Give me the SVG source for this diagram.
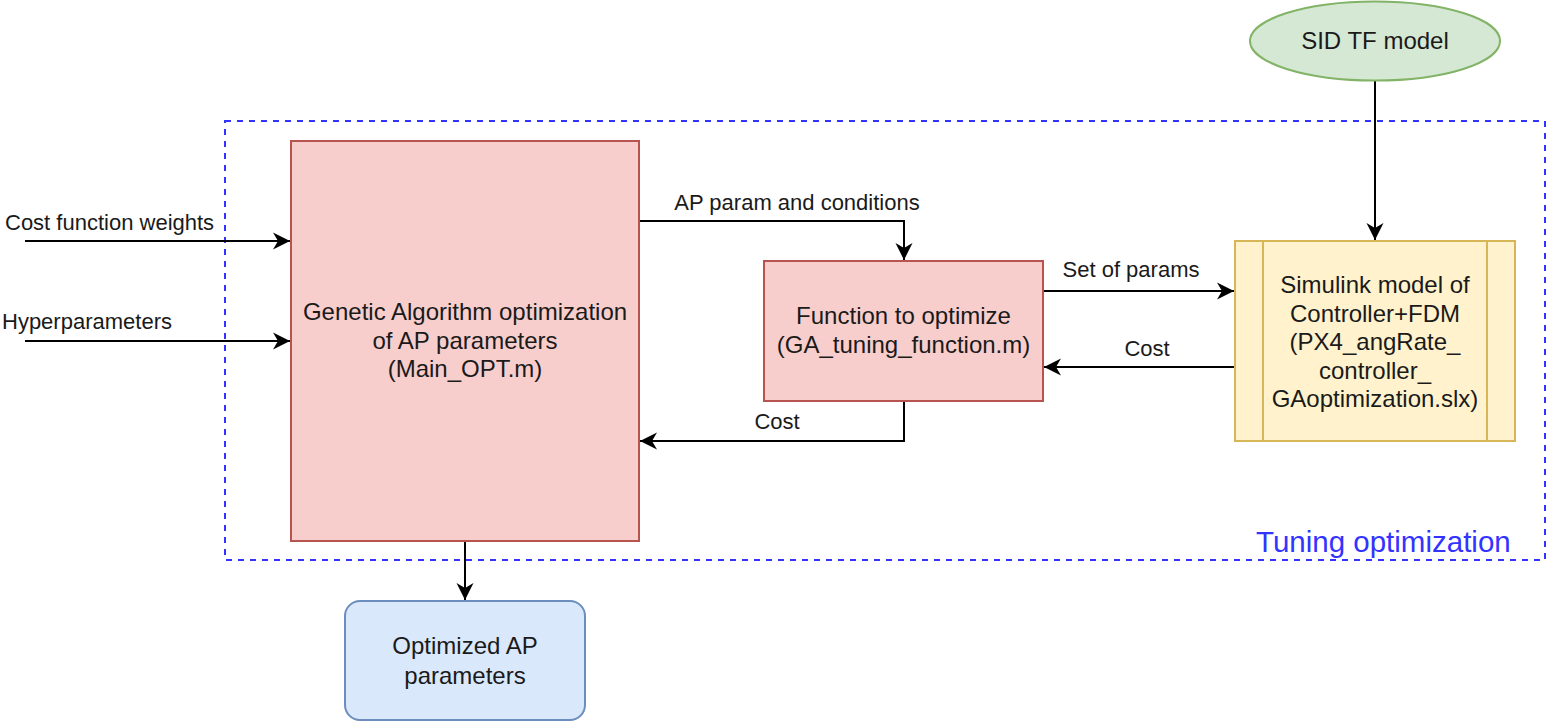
<svg xmlns="http://www.w3.org/2000/svg" width="1546" height="722" viewBox="0 0 1546 722">
  <defs>
    <style>
      .t { font-family: "Liberation Sans", Arial, Helvetica, sans-serif; fill: #1a1a1a; }
      .box { font-size: 24px; text-anchor: middle; }
      .lbl { font-size: 22px; }
      .edge { fill: none; stroke: #000; stroke-width: 2; }
      .red { fill: #f8cecc; stroke: #b85450; stroke-width: 2; }
    </style>
    <marker id="arr" markerUnits="userSpaceOnUse" viewBox="0 0 18 18" markerWidth="18" markerHeight="18" refX="17" refY="9" orient="auto">
      <path d="M17,9 L0,0.5 L5,9 L0,17.5 Z" fill="#000"/>
    </marker>
  </defs>
  <rect width="1546" height="722" fill="#fff"/>

  <g id="tuning-group">
    <rect x="225" y="121" width="1320" height="439" fill="none" stroke="#3333ff" stroke-width="2" stroke-dasharray="6 6"/>
    <text x="1256" y="552" style="font-family: 'Liberation Sans', Arial, sans-serif; font-size: 29.5px; fill: #3333ff;">Tuning optimization</text>
  </g>

  <g id="connectors">
    <path class="edge" d="M25,241 H290" marker-end="url(#arr)"/>
    <path class="edge" d="M25,341 H290" marker-end="url(#arr)"/>
    <path class="edge" d="M639,221 H904 V260" marker-end="url(#arr)"/>
    <path class="edge" d="M1043,291 H1234" marker-end="url(#arr)"/>
    <path class="edge" d="M1235,367 H1044" marker-end="url(#arr)"/>
    <path class="edge" d="M904,401 V441 H640" marker-end="url(#arr)"/>
    <path class="edge" d="M1375,81 V240" marker-end="url(#arr)"/>
    <path class="edge" d="M465,541 V600" marker-end="url(#arr)"/>
    <text class="t lbl" x="5" y="230">Cost function weights</text>
    <text class="t lbl" x="2" y="329">Hyperparameters</text>
    <text class="t lbl" x="797" y="210" text-anchor="middle">AP param and conditions</text>
    <text class="t lbl" x="1131" y="277" text-anchor="middle">Set of params</text>
    <text class="t lbl" x="1147" y="356" text-anchor="middle">Cost</text>
    <text class="t lbl" x="777" y="429" text-anchor="middle">Cost</text>
  </g>

  <g id="ga-node">
    <rect class="red" x="291" y="141" width="348" height="400"/>
    <text class="t box" x="465" y="320">Genetic Algorithm optimization</text>
    <text class="t box" x="465" y="349">of AP parameters</text>
    <text class="t box" x="465" y="377">(Main_OPT.m)</text>
  </g>

  <g id="function-node">
    <rect class="red" x="764" y="261" width="279" height="140"/>
    <text class="t box" x="903.5" y="324">Function to optimize</text>
    <text class="t box" x="903.5" y="353">(GA_tuning_function.m)</text>
  </g>

  <g id="simulink-node">
    <rect x="1235" y="241" width="280" height="200" fill="#fff2cc" stroke="#d6b656" stroke-width="2"/>
    <line x1="1263" y1="241" x2="1263" y2="441" stroke="#d6b656" stroke-width="2"/>
    <line x1="1487" y1="241" x2="1487" y2="441" stroke="#d6b656" stroke-width="2"/>
    <text class="t box" x="1375" y="293">Simulink model of</text>
    <text class="t box" x="1375" y="322">Controller+FDM</text>
    <text class="t box" x="1375" y="350">(PX4_angRate_</text>
    <text class="t box" x="1375" y="379">controller_</text>
    <text class="t box" x="1375" y="407">GAoptimization.slx)</text>
  </g>

  <g id="sid-node">
    <ellipse cx="1375" cy="41" rx="125" ry="39.5" fill="#d5e8d4" stroke="#82b366" stroke-width="2"/>
    <text class="t box" x="1375" y="49">SID TF model</text>
  </g>

  <g id="optimized-node">
    <rect x="345" y="601" width="240" height="119" rx="15" ry="15" fill="#dae8fc" stroke="#6c8ebf" stroke-width="2"/>
    <text class="t box" x="465" y="654">Optimized AP</text>
    <text class="t box" x="465" y="684">parameters</text>
  </g>
</svg>
